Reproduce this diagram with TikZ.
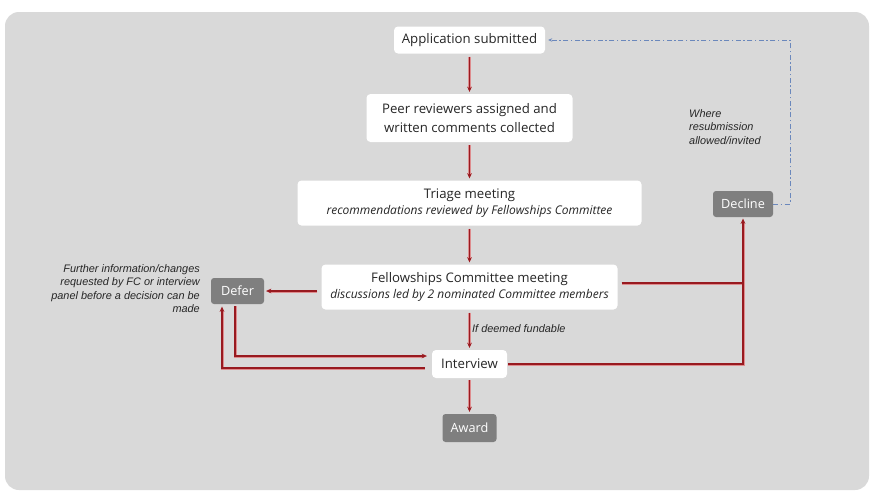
\documentclass[tikz,border=0pt]{standalone}
\usepackage{fontspec}
\setmainfont{Open Sans}
\newfontfamily\notefont{Liberation Sans}
\usetikzlibrary{arrows.meta}
\definecolor{panel}{HTML}{D9D9D9}
\definecolor{boxgray}{HTML}{7F7F7F}
\definecolor{linered}{HTML}{981A20}
\definecolor{halo}{HTML}{DE8C8E}
\definecolor{dashblue}{HTML}{6B88BC}
\definecolor{ink}{HTML}{262626}
\newcommand\subline[1]{{\itshape\fontsize{12}{14}\selectfont #1}}
\begin{document}
\begin{tikzpicture}[x=1pt,y=-1pt,
 wbox/.style={fill=white, text=ink, rounded corners=4pt, inner sep=0pt, align=center, font=\fontsize{13.2}{19}\selectfont},
 gbox/.style={fill=boxgray, text=white, rounded corners=3pt, inner sep=0pt, font=\fontsize{12.7}{15}\selectfont},
 link/.style={draw=linered, line width=1.3pt, preaction={draw=halo, line width=3pt}},
 flow/.style={link, -{Stealth[length=5pt,width=4.5pt]}, preaction={-}},
 note/.style={text=ink, font=\notefont\itshape\fontsize{10.9}{13.5}\selectfont, inner sep=0pt},
 resub/.style={draw=dashblue, line width=0.9pt, dash pattern=on 5pt off 2.5pt on 1.5pt off 2.5pt, -{Stealth[length=4pt,width=3.5pt]}}
]
\useasboundingbox (0,0) rectangle (874,493);
\fill[white] (0,0) rectangle (874,493);
\fill[panel, rounded corners=14pt] (5,12) rectangle (869,490);

\node[wbox, minimum width=151, minimum height=27] (app) at (469.5,40) {Application submitted};
\node[wbox, minimum width=206, minimum height=48] (peer) at (469.5,118) {Peer reviewers assigned and\\written comments collected};
\node[wbox, minimum width=344, minimum height=45] (triage) at (469.5,203) {Triage meeting\\[-3pt]\subline{recommendations reviewed by Fellowships Committee}};
\node[wbox, minimum width=296, minimum height=45] (fc) at (469.5,287) {Fellowships Committee meeting\\[-3pt]\subline{discussions led by 2 nominated Committee members}};
\node[wbox, minimum width=75, minimum height=28] (int) at (469.5,364) {Interview};
\node[gbox, minimum width=54, minimum height=28] (award) at (469.5,428) {Award};
\node[gbox, minimum width=53, minimum height=26] (defer) at (237.5,291) {Defer};
\node[gbox, minimum width=60, minimum height=26] (decline) at (743,204) {Decline};

\node[note, align=right, anchor=north east] (fnote) at (200,264) {Further information/changes\\requested by FC or interview\\panel before a decision can be\\made};
\node[note, align=left, anchor=north west] (wnote) at (689,109) {Where\\resubmission\\allowed/invited};
\node[note, anchor=base west] (fund) at (472,332) {If deemed fundable};

\coordinate (j1) at (743,283);
\coordinate (j2) at (743,364);
\coordinate (dc) at (790,204);

\draw[flow, shorten <=3pt, shorten >=2pt] (app) -- (peer);
\draw[flow, shorten <=3pt, shorten >=2pt] (peer) -- (triage);
\draw[flow, shorten <=3pt, shorten >=2pt] (triage) -- (fc);
\draw[flow, shorten <=3pt, shorten >=2pt] (fc) -- (int);
\draw[flow, shorten <=2pt, shorten >=2pt] (int) -- (award);
\draw[flow, shorten <=4pt, shorten >=2pt] (fc.west |- defer.east) -- (defer.east);
\draw[link] ([xshift=4pt,yshift=4pt]fc.east) -- (j1);
\draw[flow, shorten >=1.5pt] ([xshift=1pt]int.east) -- (j2) -- (decline.south);
\draw[flow, shorten >=5pt] ([xshift=-2.5pt,yshift=-2pt]defer.south) |- ([yshift=8pt]int.west);
\draw[flow, shorten >=1.5pt] ([xshift=-7pt,yshift=-4pt]int.west) -| ([xshift=-15.5pt,yshift=-1pt]defer.south);
\draw[resub, shorten >=3pt] (decline.east) -- (dc) |- (app.east);
\end{tikzpicture}
\end{document}
